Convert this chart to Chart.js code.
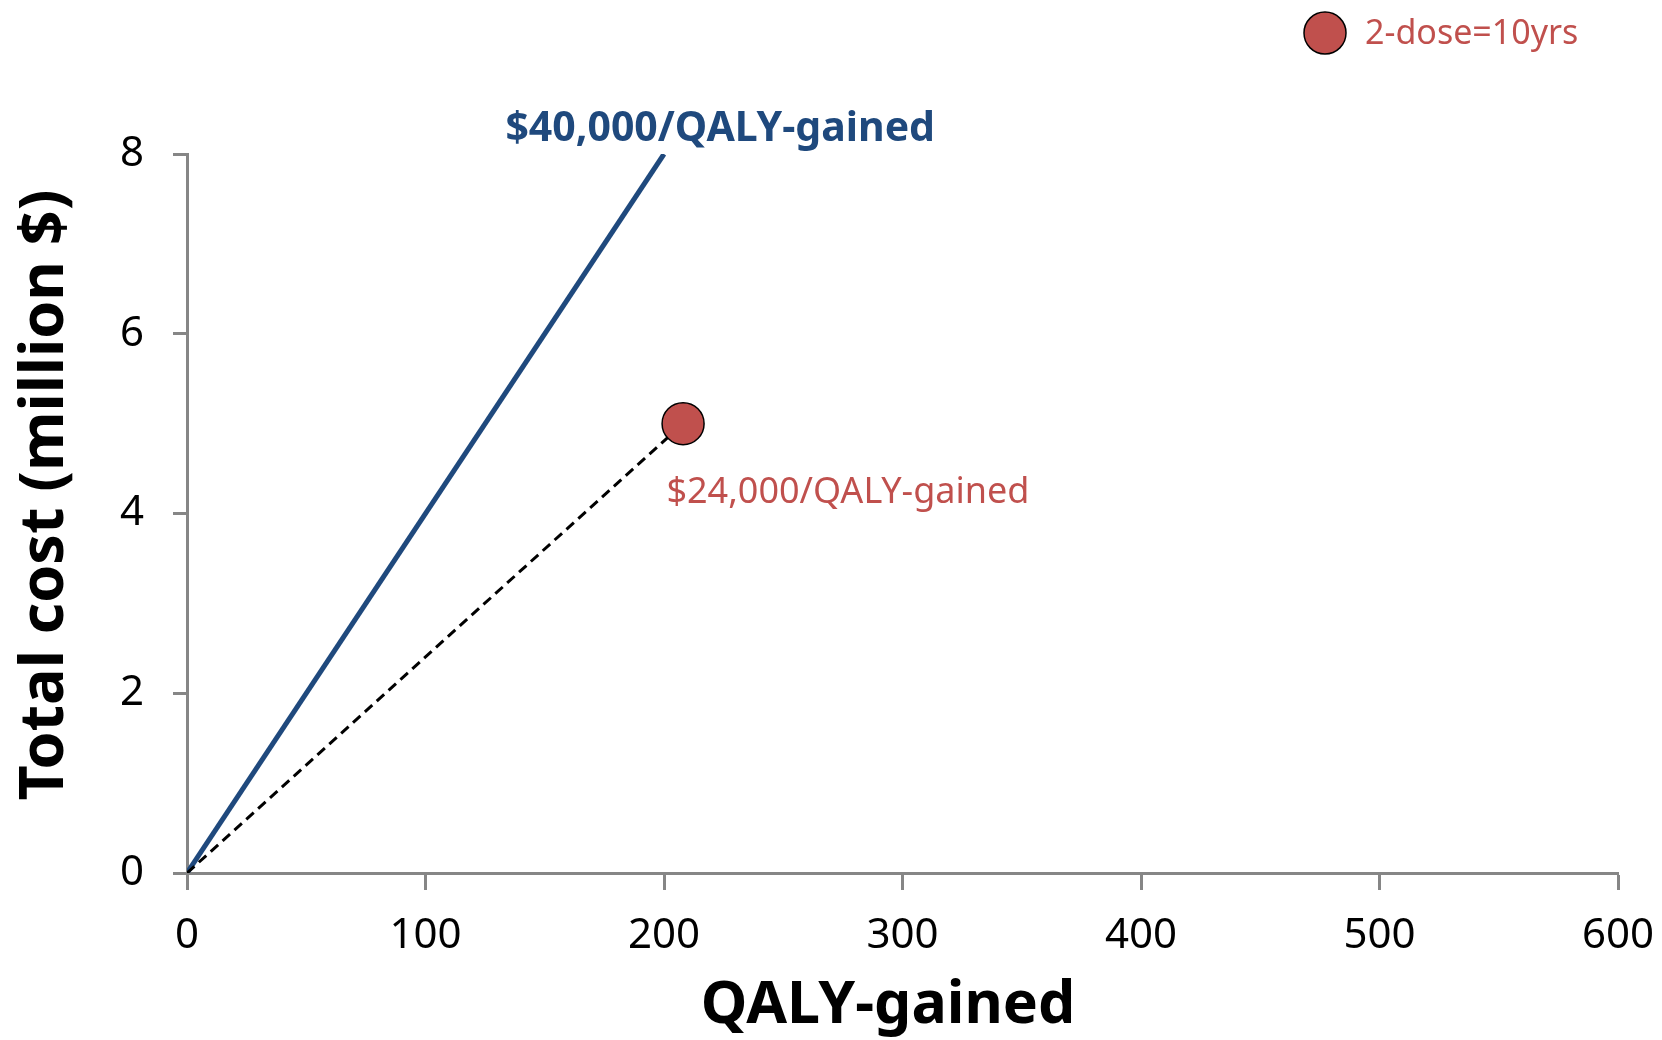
<!DOCTYPE html>
<html>
<head>
<meta charset="utf-8">
<script src="https://cdn.jsdelivr.net/npm/chart.js@4/dist/chart.umd.min.js"></script>
<style>
  html, body { margin: 0; padding: 0; background: #fff; }
  #wrap { width: 1662px; height: 1040px; }
</style>
</head>
<body>
<div id="wrap"><canvas id="myChart"></canvas></div>
<script>
// willingness-to-pay threshold line ($40,000 per QALY)
const thresholdQaly = [0, 200];
const thresholdCost = [0, 8];
// 2-dose strategy, 10 years ($24,000 per QALY)
const strategyQaly = [0, 208];
const strategyCost = [0, 5];
const strategyName = "2-dose=10yrs";
const xRange = [0, 600];
const yRange = [0, 8];
const xTitle = "QALY-gained";
const yTitle = "Total cost (million $)";

const blue = "#1f497d";
const red = "#c0504d";
const axisGrey = "#868686";
const fontFamily = "'Noto Sans', sans-serif";

const toPoints = (xs, ys) => xs.map((x, i) => ({x: x, y: ys[i]}));
const last = arr => arr[arr.length - 1];

// text notes placed in data units
const notes = [
  {text: "$40,000/QALY-gained", x: 133.5, y: 8.15, color: blue, font: "bold 41px " + fontFamily},
  {text: "$24,000/QALY-gained", x: 201.0, y: 4.12, color: red, font: "36px " + fontFamily},
];

const annotate = {
  id: 'annotate',
  afterDatasetsDraw(chart) {
    const {ctx, scales: {x, y}} = chart;
    ctx.save();
    ctx.textBaseline = 'alphabetic';
    ctx.textAlign = 'left';
    notes.forEach(n => {
      ctx.font = n.font;
      ctx.fillStyle = n.color;
      ctx.fillText(n.text, x.getPixelForValue(n.x), y.getPixelForValue(n.y));
    });

    // axis titles
    ctx.fillStyle = "#000";
    ctx.textAlign = 'center';
    ctx.textBaseline = 'middle';
    ctx.font = "bold 59px " + fontFamily;
    ctx.fillText(xTitle, 888, 1006);
    ctx.save();
    ctx.translate(46, 495);
    ctx.rotate(-Math.PI / 2);
    ctx.font = "bold 61px " + fontFamily;
    ctx.fillText(yTitle, 0, 0);
    ctx.restore();

    // single legend entry, top right
    const ds = chart.data.datasets.find(d => d.legend);
    const cx = chart.width - 337, cy = 33;
    ctx.beginPath();
    ctx.arc(cx, cy, ds.pointRadius, 0, Math.PI * 2);
    ctx.fillStyle = ds.backgroundColor;
    ctx.fill();
    ctx.lineWidth = ds.borderWidth;
    ctx.strokeStyle = ds.borderColor;
    ctx.stroke();
    ctx.font = "34px " + fontFamily;
    ctx.fillStyle = red;
    ctx.textAlign = 'left';
    ctx.fillText(ds.label, cx + 40, cy + 1);
    ctx.restore();
  }
};

const data = {
  datasets: [{
    label: strategyName,
    legend: true,
    data: [{x: last(strategyQaly), y: last(strategyCost)}],
    pointRadius: 21,
    pointHoverRadius: 21,
    backgroundColor: red,
    borderColor: "#000",
    borderWidth: 1.5,
    order: 0
  }, {
    label: "strategy ratio",
    data: toPoints(strategyQaly, strategyCost),
    showLine: true,
    borderColor: "#000",
    borderWidth: 3,
    borderDash: [10, 6],
    pointRadius: 0,
    order: 1
  }, {
    label: "threshold",
    data: toPoints(thresholdQaly, thresholdCost),
    showLine: true,
    borderColor: blue,
    borderWidth: 5,
    pointRadius: 0,
    order: 2
  }]
};

const opt = {
  responsive: true,
  maintainAspectRatio: false,
  animation: false,
  layout: { padding: {top: 154, right: 0, left: 0, bottom: 0} },
  plugins: { legend: {display: false}, tooltip: {enabled: false} },
  scales: {
    x: {
      type: 'linear',
      min: xRange[0], max: xRange[1],
      // fixed band below the plot; keep the right edge clear of the "600" label
      afterFit: s => { s.height = 167; s.paddingRight = 44; },
      ticks: { stepSize: 100, color: "#000", padding: 21, font: {family: fontFamily, size: 42} },
      grid: { drawOnChartArea: false, drawTicks: true, tickLength: 17, tickColor: axisGrey, tickWidth: 3 },
      border: { color: axisGrey, width: 3 }
    },
    y: {
      min: yRange[0], max: yRange[1],
      afterFit: s => { s.width = 187; },
      ticks: { stepSize: 2, color: "#000", padding: 29, font: {family: fontFamily, size: 42} },
      grid: { drawOnChartArea: false, drawTicks: true, tickLength: 14, tickColor: axisGrey, tickWidth: 3 },
      border: { color: axisGrey, width: 3 }
    }
  }
};

const ctx = document.getElementById('myChart').getContext('2d');
new Chart(ctx, { type: 'scatter', data: data, options: opt, plugins: [annotate] });
</script>
</body>
</html>
